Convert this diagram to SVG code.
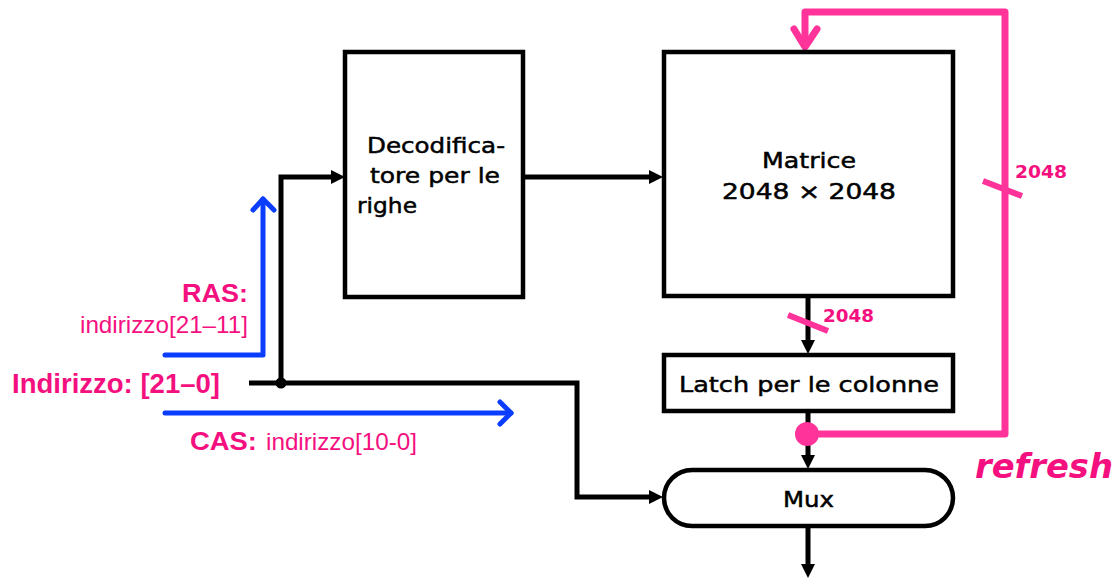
<svg xmlns="http://www.w3.org/2000/svg" width="1117" height="580" viewBox="0 0 1117 580">
  <style>
    .box { fill: #ffffff; stroke: #000000; stroke-width: 4.5; }
    .lbl { font-family: "DejaVu Sans", "Liberation Sans", sans-serif; font-size: 22px; fill: #000000; stroke: #000000; stroke-width: 0.5; }
    .wire { fill: none; stroke: #000000; stroke-width: 5; }
    .sig { fill: none; stroke: #0b3dff; stroke-width: 5; stroke-linecap: round; stroke-linejoin: round; }
    .ref { fill: none; stroke: #ff3399; stroke-width: 7; stroke-linecap: round; stroke-linejoin: round; }
    .tick { fill: none; stroke: #ff3399; stroke-width: 6; }
    .pk { font-family: "Liberation Sans", Arial, sans-serif; fill: #f5107f; }
    .pkb { font-family: "Liberation Sans", Arial, sans-serif; font-weight: bold; fill: #f5107f; }
    .bus { font-family: "DejaVu Sans", sans-serif; font-weight: bold; font-size: 18px; fill: #f5107f; }
  </style>
  <defs>
    <marker id="arr" viewBox="0 -7.5 14 15" refX="0" refY="0" markerWidth="14" markerHeight="15" markerUnits="userSpaceOnUse" orient="auto">
      <path d="M0,-7 L14,0 L0,7 Z" fill="#000000"/>
    </marker>
  </defs>
  <rect width="1117" height="580" fill="#ffffff"/>

  <!-- connectors -->
  <g id="connectors">
    <path class="wire" d="M249,383 H577 V497 H649" marker-end="url(#arr)"/>
    <path class="wire" d="M281,383 V177 H331" marker-end="url(#arr)"/>
    <path class="wire" d="M523,177 H649" marker-end="url(#arr)"/>
    <path class="wire" d="M808,296 V340" marker-end="url(#arr)"/>
    <path class="wire" d="M808,411 V455" marker-end="url(#arr)"/>
    <path class="wire" d="M808,526 V564" marker-end="url(#arr)"/>
    <circle cx="281" cy="383" r="5.5" fill="#000000"/>

    <!-- RAS / CAS strobes -->
    <path class="sig" d="M165,355 H263 V199"/>
    <path class="sig" d="M253,210 L263,199 L274,210"/>
    <path class="sig" d="M165,413 H511"/>
    <path class="sig" d="M500,402 L511,413 L500,424"/>

    <!-- refresh loop -->
    <path class="ref" d="M808,434 H1005 V12 H805 V46"/>
    <path class="ref" d="M794,29 L805,47 L817,29"/>
    <circle cx="807" cy="434" r="12" fill="#ff3399"/>
    <path class="tick" d="M983,181 L1022,196"/>
    <path class="tick" d="M788,315 L828,331"/>
    <text class="bus" x="1015" y="178" textLength="52" lengthAdjust="spacingAndGlyphs">2048</text>
    <text class="bus" x="823" y="322" textLength="51" lengthAdjust="spacingAndGlyphs">2048</text>
    <text x="975" y="478" font-family="DejaVu Sans, sans-serif" font-weight="bold" font-style="italic" font-size="34" fill="#f5107f" textLength="138" lengthAdjust="spacingAndGlyphs">refresh</text>
  </g>

  <!-- address labels -->
  <g id="address">
    <text class="pkb" x="182" y="302" font-size="26" textLength="66" lengthAdjust="spacingAndGlyphs">RAS:</text>
    <text class="pk" x="80" y="333" font-size="24" textLength="168" lengthAdjust="spacingAndGlyphs">indirizzo[21–11]</text>
    <text class="pkb" x="12" y="393" font-size="28" textLength="208" lengthAdjust="spacingAndGlyphs">Indirizzo: [21–0]</text>
    <text class="pkb" x="190" y="450" font-size="26" textLength="67" lengthAdjust="spacingAndGlyphs">CAS:</text>
    <text class="pk" x="266" y="450" font-size="24" textLength="151" lengthAdjust="spacingAndGlyphs">indirizzo[10-0]</text>
  </g>

  <!-- row decoder -->
  <g id="decoder">
    <rect class="box" x="345" y="52" width="178" height="245"/>
    <text class="lbl" x="367" y="153" textLength="138" lengthAdjust="spacingAndGlyphs">Decodifica-</text>
    <text class="lbl" x="370" y="183" textLength="130" lengthAdjust="spacingAndGlyphs">tore per le</text>
    <text class="lbl" x="357" y="213" textLength="60" lengthAdjust="spacingAndGlyphs">righe</text>
  </g>

  <!-- memory array -->
  <g id="matrix">
    <rect class="box" x="664" y="52" width="289" height="244"/>
    <text class="lbl" x="762" y="168" textLength="94" lengthAdjust="spacingAndGlyphs">Matrice</text>
    <text class="lbl" x="722" y="199" textLength="174" lengthAdjust="spacingAndGlyphs">2048 × 2048</text>
  </g>

  <!-- column latch -->
  <g id="latch">
    <rect class="box" x="664" y="355" width="289" height="56"/>
    <text class="lbl" x="679" y="392" textLength="260" lengthAdjust="spacingAndGlyphs">Latch per le colonne</text>
  </g>

  <!-- multiplexer -->
  <g id="mux">
    <rect class="box" x="664" y="470" width="289" height="56" rx="28" ry="28"/>
    <text class="lbl" x="783" y="507" textLength="51" lengthAdjust="spacingAndGlyphs">Mux</text>
  </g>
</svg>
